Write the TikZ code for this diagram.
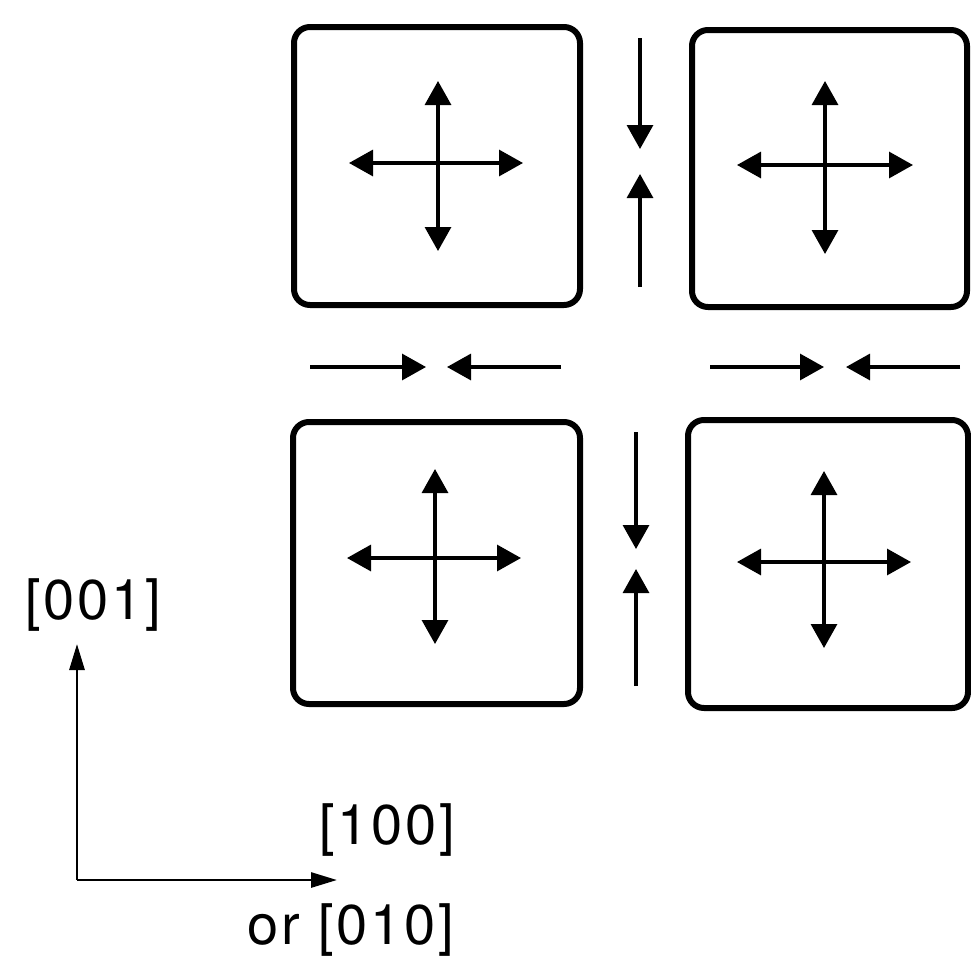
\documentclass[tikz,border=0pt]{standalone}
\usepackage{fontspec}
\setmainfont{TeX Gyre Heros}[LetterSpace=5]
\usetikzlibrary{arrows.meta}
\begin{document}
\begin{tikzpicture}[x=1pt,y=-1pt,
  grain/.style={draw=black, line width=6pt, rounded corners=16pt, rectangle, inner sep=0pt},
  force/.style={line width=3.2pt, -{Triangle[length=24pt,width=26pt]}},
  biforce/.style={line width=3.2pt, {Triangle[length=24pt,width=26pt]}-{Triangle[length=24pt,width=26pt]}},
  axis/.style={line width=2.8pt, -{Triangle[length=26pt,width=15pt]}},
  lbl/.style={font=\fontsize{56}{62}\selectfont, inner sep=0pt}]
\useasboundingbox (0,0) rectangle (971,961);

% four grains
\node[grain, minimum width=286pt, minimum height=278pt] (tl) at (437,166) {};
\node[grain, minimum width=275pt, minimum height=277pt] (tr) at (829.5,168.5) {};
\node[grain, minimum width=287pt, minimum height=282pt] (bl) at (436.5,563) {};
\node[grain, minimum width=280pt, minimum height=288pt] (br) at (828,564) {};

% internal tension in each grain
\foreach \g/\cx/\cy/\hl/\hr/\vt/\vb in {tl/438/163/349/523/81/251, tr/825/165/737/913/81/254,
                                       bl/435/558/347/521/469/644, br/824/562/737/911/471/648}{
  \coordinate (\g-w) at (\hl,\cy);
  \coordinate (\g-e) at (\hr,\cy);
  \coordinate (\g-n) at (\cx,\vt);
  \coordinate (\g-s) at (\cx,\vb);
  \draw[biforce] (\g-w) -- (\g-e);
  \draw[biforce] (\g-n) -- (\g-s);
}

% compression between grains
\coordinate (ta) at (640,38);  \coordinate (tb) at (640,149);
\coordinate (tc) at (640,287); \coordinate (td) at (640,174);
\draw[force] (ta) -- (tb);
\draw[force] (tc) -- (td);
\coordinate (ba) at (636,432); \coordinate (bb) at (636,549);
\coordinate (bc) at (636,686); \coordinate (bd) at (636,569);
\draw[force] (ba) -- (bb);
\draw[force] (bc) -- (bd);
\coordinate (la) at (310,367); \coordinate (lb) at (426,367);
\coordinate (lc) at (561,367); \coordinate (ld) at (447,367);
\draw[force] (la) -- (lb);
\draw[force] (lc) -- (ld);
\coordinate (ra) at (710,367); \coordinate (rb) at (824,367);
\coordinate (rc) at (960,367); \coordinate (rd) at (846,367);
\draw[force] (ra) -- (rb);
\draw[force] (rc) -- (rd);

% crystal axes
\coordinate (o) at (77,880);
\coordinate (up) at (77,644);
\coordinate (rt) at (337,880);
\draw[axis] (o) -- (up);
\draw[axis] (o) -- (rt);
\node[lbl] (z) at (93,605) {[001]};
\node[lbl] (x) at (387,830) {[100]};
\node[lbl] (y) at (351,930) {or [010]};
\end{tikzpicture}
\end{document}
